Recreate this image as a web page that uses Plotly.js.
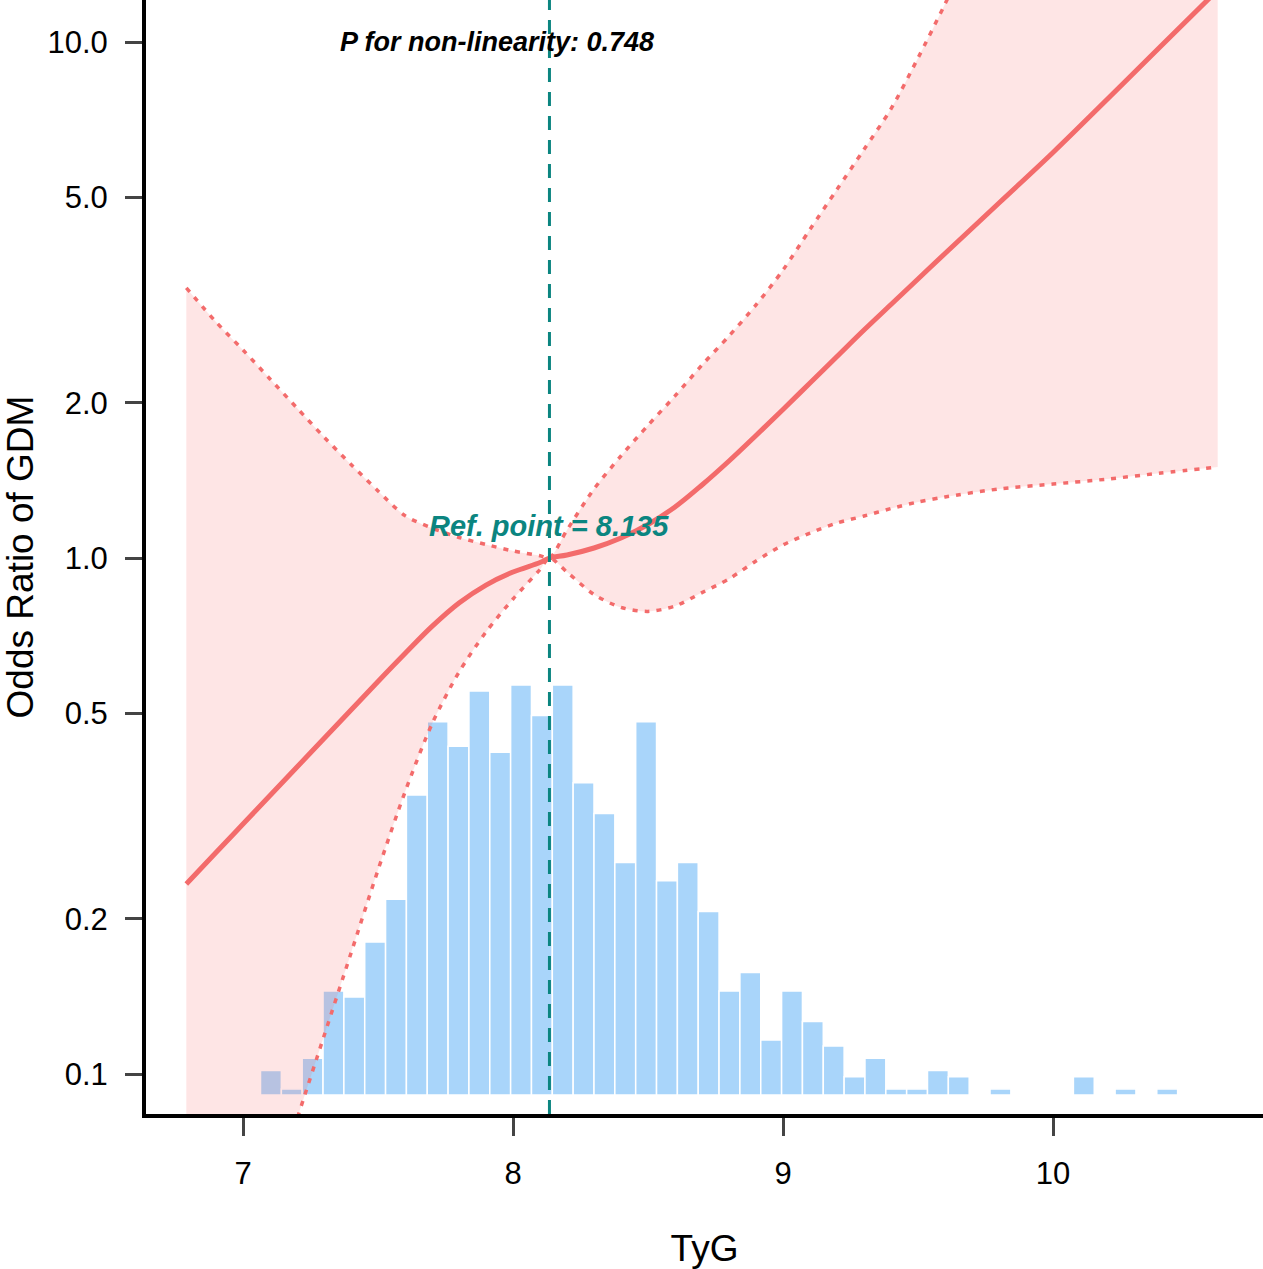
<!DOCTYPE html>
<html>
<head>
<meta charset="utf-8">
<script src="https://cdn.plot.ly/plotly-3.0.1.min.js"></script>
<style>
  html, body { margin: 0; padding: 0; background: #fff; }
  #chart { width: 1263px; height: 1269px; }
</style>
</head>
<body>
<div id="chart"></div>
<script>
// Restricted cubic spline: TyG vs odds ratio of GDM
const tyg = [6.79, 6.9, 7.0, 7.1, 7.2, 7.3, 7.4, 7.5, 7.6, 7.7, 7.8, 7.9, 8.0, 8.1, 8.135, 8.2, 8.3, 8.4,
  8.5, 8.6, 8.7, 8.8, 8.9, 9.0, 9.1, 9.2, 9.3, 9.4, 9.5, 9.6, 9.8, 10.0, 10.2, 10.4, 10.61];
const orFit = [0.2334, 0.2687, 0.3051, 0.3465, 0.3935, 0.4469, 0.5075, 0.5763, 0.6528, 0.7368, 0.818, 0.8863, 0.9395, 0.9801, 1.0, 1.0135, 1.0456, 1.0933,
  1.1613, 1.2556, 1.3851, 1.5416, 1.7276, 1.9404, 2.1837, 2.4576, 2.7657, 3.0995, 3.4731, 3.8918, 4.8753, 6.1078, 7.7371, 9.823, 12.61];
const orUpper = [3.337, 2.867, 2.53, 2.223, 1.953, 1.716, 1.518, 1.349, 1.208, 1.143, 1.096, 1.062, 1.032, 1.01, 1.0, 1.133, 1.361, 1.577,
  1.808, 2.061, 2.366, 2.693, 3.093, 3.615, 4.334, 5.18, 6.19, 7.42, 9.31, 11.85, 19.7, 33.7, 60, 112, 218];
const orLower = [0.0179, 0.0269, 0.039, 0.0565, 0.0818, 0.1185, 0.1715, 0.2485, 0.352, 0.477, 0.6012, 0.7189, 0.8328, 0.95, 1.0, 0.939, 0.85, 0.802,
  0.788, 0.807, 0.857, 0.911, 0.987, 1.06, 1.118, 1.169, 1.206, 1.247, 1.284, 1.313, 1.361, 1.391, 1.422, 1.461, 1.501];

// Distribution of TyG (histogram counts)
const binStart = 7.0648;
const binWidth = 0.0772;
const binCounts = [4, 1, 6, 17, 16, 25, 32, 49, 61, 57, 66, 56, 67, 62, 67, 51, 46, 38, 61, 35,
  38, 30, 17, 20, 9, 17, 12, 8, 3, 6, 1, 1, 4, 3, 0, 1, 0, 0, 0, 3, 0, 1, 0, 1];

const refPoint = 8.135;
const refOR = 1;
const pNonLinear = '0.748';

const xTicks = [7, 8, 9, 10];
const yTicks = [0.1, 0.2, 0.5, 1, 2, 5, 10];
const yTickText = ['0.1', '0.2', '0.5', '1.0', '2.0', '5.0', '10.0'];

const lineColor = '#F36B6B';
const teal = '#0B8580';
const font = 'Arial, "Liberation Sans", sans-serif';

const histogram = {
  type: 'bar',
  x0: binStart + binWidth / 2,
  dx: binWidth,
  y: binCounts,
  width: binWidth,
  marker: { color: '#A9D5FA', line: { color: '#ffffff', width: 1.5 } },
  xaxis: 'x',
  yaxis: 'y',
  hoverinfo: 'skip',
};

// ribbon is drawn on top of the bars (overlaying axis)
const ciLine = { color: lineColor, width: 3.5, dash: '5px,7px', shape: 'spline', smoothing: 0.8 };
const upper = {
  x: tyg,
  y: orUpper,
  mode: 'lines',
  line: ciLine,
  xaxis: 'x',
  yaxis: 'y2',
};
const lower = {
  x: tyg,
  y: orLower,
  mode: 'lines',
  fill: 'tonexty',
  fillcolor: 'rgba(248,113,113,0.18)',
  line: ciLine,
  xaxis: 'x',
  yaxis: 'y2',
};
const fit = {
  x: tyg,
  y: orFit,
  mode: 'lines',
  line: { color: lineColor, width: 5, shape: 'spline', smoothing: 1 },
  xaxis: 'x',
  yaxis: 'y2',
};

const layout = {
  width: 1263,
  height: 1269,
  margin: { l: 146, r: 0, t: 0, b: 155 },
  paper_bgcolor: '#fff',
  plot_bgcolor: '#fff',
  showlegend: false,
  font: { family: font, size: 31, color: '#000' },
  xaxis: {
    range: [6.6407, 10.7778],
    tickvals: xTicks,
    ticks: 'outside',
    ticklen: 18,
    tickwidth: 3,
    ticklabelstandoff: 11,
    showline: true,
    linewidth: 4,
    linecolor: '#000',
    showgrid: false,
    zeroline: false,
    title: { text: 'TyG', standoff: 57 },
  },
  yaxis: {
    range: [-3.1, 178.9],
    visible: false,
    showgrid: false,
    zeroline: false,
  },
  yaxis2: {
    type: 'log',
    overlaying: 'y',
    side: 'left',
    anchor: 'x',
    range: [-1.0775, 1.0814],
    tickvals: yTicks,
    ticktext: yTickText,
    ticks: 'outside',
    ticklen: 17,
    tickwidth: 3,
    ticklabelstandoff: 11,
    showline: true,
    linewidth: 4,
    linecolor: '#000',
    showgrid: false,
    zeroline: false,
    title: { text: 'Odds Ratio of GDM', standoff: 39 },
  },
  shapes: [
    {
      type: 'line', layer: 'above', xref: 'x', yref: 'paper',
      x0: refPoint, x1: refPoint, y0: 0, y1: 1,
      line: { color: teal, width: 3, dash: '14px,10px' },
    },
    {
      type: 'line', layer: 'above', xref: 'paper', yref: 'y2',
      x0: 0, x1: 1, y0: Math.log10(refOR), y1: Math.log10(refOR),
      line: { color: teal, width: 3, dash: '14px,10px' },
    },
  ],
  annotations: [
    {
      xref: 'paper', yref: 'paper', x: 0.3142, y: 0.9623,
      xanchor: 'center', yanchor: 'middle',
      text: '<b><i>P for non-linearity: ' + pNonLinear + '</i></b>',
      showarrow: false, font: { size: 27, color: '#000' },
    },
    {
      xref: 'x', yref: 'paper', x: refPoint, y: 0.5278,
      xanchor: 'center', yanchor: 'middle',
      text: '<b><i>Ref. point = ' + refPoint + '</i></b>',
      showarrow: false, font: { size: 29, color: teal },
    },
  ],
};

Plotly.newPlot('chart', [histogram, upper, lower, fit], layout, { staticPlot: true });
</script>
</body>
</html>
